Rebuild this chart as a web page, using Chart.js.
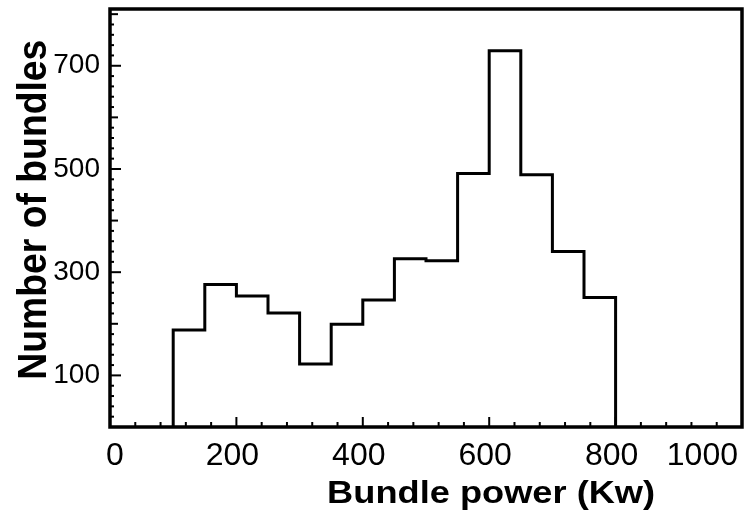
<!DOCTYPE html>
<html>
<head>
<meta charset="utf-8">
<script src="https://cdn.jsdelivr.net/npm/chart.js@4/dist/chart.umd.min.js"></script>
<style>
  html, body { margin: 0; padding: 0; background: #fff; }
  canvas { display: block; }
</style>
</head>
<body>
<canvas id="c" width="750" height="524"></canvas>
<script>
// Histogram bin edges (kW) and number of bundles in each 50 kW bin
const binEdges = [100, 150, 200, 250, 300, 350, 400, 450, 500, 550, 600, 650, 700, 750, 800];
const bundleCounts = [188, 276, 254, 221, 122, 199, 246, 326, 322, 491, 729, 489, 340, 251];

// Axis tick labels and minor tick spacing
const xTickLabels = [0, 200, 400, 600, 800, 1000];
const yTickLabels = [100, 300, 500, 700];
const xMinorStep = 40;
const yMinorStep = 20;

const xTitle = 'Bundle power (Kw)';
const yTitle = 'Number of bundles';

// Stepped outline: rise at the first edge, one point per bin at its left edge, drop at the last edge
const outline = [{ x: binEdges[0], y: 0 }];
bundleCounts.forEach((c, i) => outline.push({ x: binEdges[i], y: c }));
outline.push({ x: binEdges[binEdges.length - 1], y: 0 });

const FONT = '"Liberation Sans", Arial, Helvetica, sans-serif';

// Draw text stretched/condensed along its own direction to a given length
function drawFitted(ctx, text, font, x, y, length, angle) {
  ctx.save();
  ctx.font = font;
  ctx.translate(x, y);
  ctx.rotate(angle);
  const w = ctx.measureText(text).width;
  ctx.scale(length / w, 1);
  ctx.textAlign = 'center';
  ctx.textBaseline = 'alphabetic';
  ctx.fillStyle = '#000';
  ctx.fillText(text, 0, 0);
  ctx.restore();
}

// Frame, inward tick marks and axis titles
const framePlugin = {
  id: 'frame',
  afterDatasetsDraw(chart) {
    const { ctx, chartArea: a, scales: { x, y } } = chart;
    ctx.save();
    ctx.strokeStyle = '#000';
    ctx.lineCap = 'butt';

    ctx.lineWidth = 2;
    for (let v = x.min; v <= x.max; v += xMinorStep) {
      const px = x.getPixelForValue(v);
      const len = xTickLabels.includes(v) ? 10 : 5;
      ctx.beginPath();
      ctx.moveTo(px, a.bottom);
      ctx.lineTo(px, a.bottom - len);
      ctx.stroke();
    }
    for (let v = y.min; v <= y.max; v += yMinorStep) {
      const py = y.getPixelForValue(v);
      const len = yTickLabels.includes(v) ? 11 : (v % 100 === 0 ? 8 : 4);
      ctx.beginPath();
      ctx.moveTo(a.left, py);
      ctx.lineTo(a.left + len, py);
      ctx.stroke();
    }

    ctx.lineWidth = 3.5;
    ctx.strokeRect(a.left, a.top, a.right - a.left, a.bottom - a.top);
    ctx.restore();

    drawFitted(ctx, xTitle, 'bold 32px ' + FONT,
      a.left + (a.right - a.left) * 0.603, a.bottom + 76, 328, 0);
    drawFitted(ctx, yTitle, 'bold 40px ' + FONT,
      46, a.top + (a.bottom - a.top) * 0.48, 340, -Math.PI / 2);
  }
};

new Chart(document.getElementById('c'), {
  type: 'line',
  data: {
    datasets: [{
      data: outline,
      borderColor: '#000',
      borderWidth: 3,
      borderJoinStyle: 'miter',
      pointRadius: 0,
      stepped: true,
      fill: false
    }]
  },
  options: {
    responsive: false,
    animation: false,
    devicePixelRatio: 1,
    layout: { padding: { top: 9, right: 8, left: 0, bottom: 0 } },
    plugins: { legend: { display: false }, tooltip: { enabled: false } },
    scales: {
      x: {
        type: 'linear',
        min: 0,
        max: 1000,
        grid: { display: false, drawTicks: false },
        border: { display: false },
        afterBuildTicks: s => { s.ticks = xTickLabels.map(v => ({ value: v })); },
        afterFit: s => { s.height = 97; s.paddingLeft = 0; s.paddingRight = 0; },
        ticks: {
          align: 'inner',
          padding: 10,
          labelOffset: -4,
          maxRotation: 0,
          autoSkip: false,
          color: '#000',
          font: { family: FONT, size: 32 },
          callback: v => String(v)
        }
      },
      y: {
        type: 'linear',
        min: 0,
        max: 810,
        grid: { display: false, drawTicks: false },
        border: { display: false },
        afterBuildTicks: s => { s.ticks = yTickLabels.map(v => ({ value: v })); },
        afterFit: s => { s.width = 110; s.paddingTop = 0; s.paddingBottom = 0; },
        ticks: {
          padding: 10,
          autoSkip: false,
          color: '#000',
          font: { family: FONT, size: 28 },
          callback: v => String(v)
        }
      }
    }
  },
  plugins: [framePlugin]
});
</script>
</body>
</html>
